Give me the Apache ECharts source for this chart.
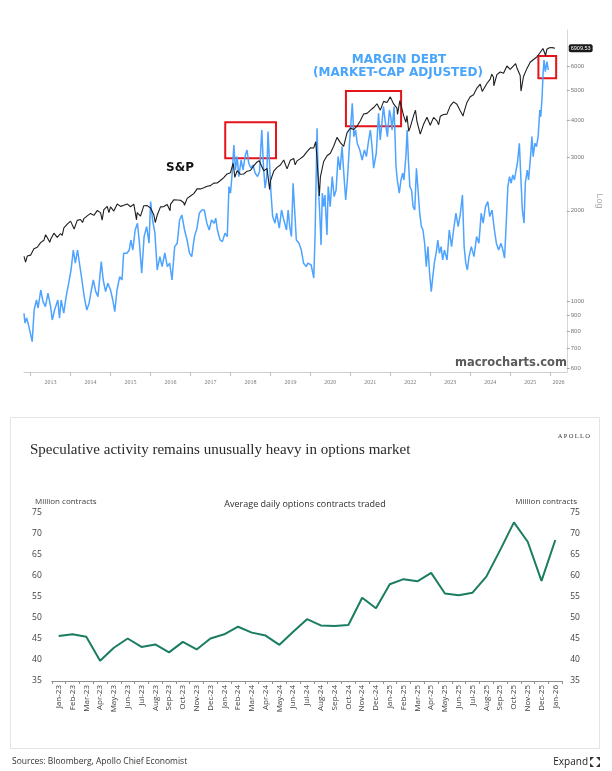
<!DOCTYPE html>
<html><head><meta charset="utf-8">
<script src="https://cdn.jsdelivr.net/npm/echarts@6.0.0/dist/echarts.min.js"></script>
<style>html,body{margin:0;padding:0;background:#fff}#c{width:612px;height:771px}</style>
</head><body><div id="c"></div>
<script>
// ---------- Top chart: S&P 500 (log) vs margin debt (market-cap adjusted) ----------
// [decimal year, index level]
const spxData = [
[2012.835,1412],[2012.875,1353],[2012.917,1416],[2013.0,1426],
[2013.083,1498],[2013.167,1515],[2013.25,1569],[2013.333,1597],[2013.375,1667],[2013.417,1631],[2013.48,1573],[2013.5,1606],[2013.583,1686],[2013.667,1633],[2013.75,1682],[2013.79,1656],[2013.833,1757],[2013.917,1806],[2014.0,1848],
[2014.09,1741],[2014.167,1859],[2014.25,1872],[2014.3,1829],[2014.333,1884],[2014.417,1924],[2014.5,1960],[2014.583,1931],[2014.667,2003],[2014.75,1972],[2014.79,1862],[2014.833,2018],[2014.917,2068],[2014.96,1972],[2015.0,2059],
[2015.083,1995],[2015.167,2105],[2015.25,2068],[2015.333,2086],[2015.417,2107],[2015.5,2063],[2015.583,2104],[2015.65,1867],[2015.667,1972],[2015.75,1920],[2015.833,2079],[2015.917,2080],[2016.0,2044],
[2016.083,1940],[2016.12,1829],[2016.167,1932],[2016.25,2060],[2016.333,2065],[2016.417,2097],[2016.49,2000],[2016.5,2099],[2016.583,2174],[2016.667,2171],[2016.75,2168],[2016.833,2126],[2016.85,2085],[2016.917,2199],[2017.0,2239],
[2017.083,2279],[2017.167,2364],[2017.25,2363],[2017.333,2384],[2017.417,2412],[2017.5,2423],[2017.583,2470],[2017.667,2472],[2017.75,2519],[2017.833,2575],[2017.917,2648],[2018.0,2674],
[2018.07,2873],[2018.11,2581],[2018.167,2714],[2018.25,2641],[2018.333,2648],[2018.417,2705],[2018.5,2718],[2018.583,2816],[2018.667,2902],[2018.72,2930],[2018.75,2914],[2018.833,2712],[2018.917,2760],[2018.98,2351],[2019.0,2507],
[2019.083,2704],[2019.167,2784],[2019.25,2834],[2019.333,2946],[2019.417,2752],[2019.5,2942],[2019.583,2980],[2019.62,2840],[2019.667,2926],[2019.75,2977],[2019.833,3038],[2019.917,3141],[2020.0,3231],
[2020.083,3226],[2020.135,3386],[2020.167,2954],[2020.225,2237],[2020.25,2585],[2020.333,2912],[2020.417,3044],[2020.5,3100],[2020.583,3271],[2020.667,3500],[2020.75,3363],[2020.833,3270],[2020.917,3622],[2021.0,3756],
[2021.083,3714],[2021.167,3811],[2021.25,3973],[2021.333,4181],[2021.417,4204],[2021.5,4298],[2021.583,4395],[2021.667,4523],[2021.75,4308],[2021.833,4605],[2021.917,4567],[2022.0,4766],
[2022.005,4797],[2022.083,4516],[2022.167,4374],[2022.18,4170],[2022.24,4632],[2022.333,4132],[2022.39,3923],[2022.417,4132],[2022.46,3667],[2022.5,3785],[2022.583,4130],[2022.63,4305],[2022.667,3955],[2022.75,3586],[2022.78,3577],[2022.833,3872],[2022.917,4080],[2023.0,3840],
[2023.083,4077],[2023.167,3970],[2023.21,3855],[2023.25,4109],[2023.333,4169],[2023.417,4180],[2023.5,4450],[2023.583,4589],[2023.667,4508],[2023.75,4288],[2023.82,4117],[2023.833,4194],[2023.917,4568],[2024.0,4770],
[2024.083,4846],[2024.167,5096],[2024.25,5254],[2024.3,4967],[2024.333,5036],[2024.417,5278],[2024.5,5460],[2024.54,5667],[2024.583,5522],[2024.59,5186],[2024.667,5648],[2024.75,5762],[2024.833,5705],[2024.917,6032],[2025.0,5882],
[2025.083,6041],[2025.135,6144],[2025.167,5955],[2025.25,5612],[2025.27,4982],[2025.333,5569],[2025.417,5912],[2025.5,6205],[2025.583,6339],[2025.667,6460],[2025.75,6688],[2025.82,6890],[2025.833,6840],[2025.885,6538],[2025.917,6849],[2025.98,6932],[2026.05,6940],[2026.12,6909.53]
];
// [decimal year, margin debt / market cap (%)]
const marginDebtData = [
[2012.835,1.294],[2012.859,1.245],[2012.901,1.270],[2012.958,1.227],[2013.040,1.152],[2013.089,1.310],[2013.148,1.360],[2013.188,1.320],[2013.254,1.410],[2013.311,1.352],[2013.370,1.327],[2013.435,1.394],[2013.501,1.327],[2013.543,1.260],[2013.600,1.310],[2013.681,1.360],[2013.723,1.269],[2013.765,1.360],[2013.830,1.294],[2013.889,1.377],[2013.953,1.444],
[2014.012,1.510],[2014.069,1.610],[2014.119,1.544],[2014.175,1.610],[2014.235,1.527],[2014.284,1.460],[2014.341,1.377],[2014.407,1.310],[2014.464,1.344],[2014.521,1.410],[2014.570,1.460],[2014.630,1.402],[2014.686,1.377],[2014.768,1.552],[2014.817,1.460],[2014.876,1.402],[2014.933,1.444],
[2015.000,1.410],[2015.057,1.360],[2015.106,1.302],[2015.163,1.410],[2015.230,1.477],[2015.287,1.460],[2015.328,1.594],[2015.410,1.594],[2015.469,1.610],[2015.509,1.660],[2015.558,1.610],[2015.617,1.710],[2015.674,1.744],[2015.723,1.644],[2015.780,1.494],[2015.840,1.677],[2015.904,1.727],[2015.963,1.644],
[2016.003,1.852],[2016.052,1.760],[2016.111,1.694],[2016.168,1.510],[2016.235,1.577],[2016.291,1.527],[2016.358,1.595],[2016.422,1.527],[2016.481,1.544],[2016.538,1.460],[2016.605,1.627],[2016.669,1.644],[2016.728,1.760],[2016.785,1.785],[2016.852,1.710],[2016.916,1.660],[2016.975,1.594],
[2017.032,1.577],[2017.099,1.677],[2017.163,1.719],[2017.222,1.794],[2017.286,1.810],[2017.346,1.810],[2017.410,1.744],[2017.469,1.710],[2017.526,1.760],[2017.593,1.744],[2017.632,1.769],[2017.674,1.710],[2017.741,1.660],[2017.798,1.652],[2017.864,1.694],[2017.921,1.677],[2017.963,1.927],
[2018.002,1.894],[2018.044,1.994],[2018.086,2.135],[2018.126,2.010],[2018.168,2.077],[2018.210,1.977],[2018.267,2.060],[2018.316,2.010],[2018.373,2.085],[2018.415,2.110],[2018.457,2.044],[2018.514,2.019],[2018.563,2.035],[2018.620,1.994],[2018.679,1.977],[2018.728,2.002],[2018.785,2.210],[2018.827,2.027],[2018.867,1.919],[2018.909,1.977],[2018.941,2.202],[2018.975,2.060],
[2019.015,1.894],[2019.057,1.777],[2019.114,1.744],[2019.156,1.794],[2019.222,1.719],[2019.279,1.810],[2019.336,1.760],[2019.403,1.710],[2019.444,1.810],[2019.484,1.727],[2019.526,1.677],[2019.568,1.944],[2019.607,1.810],[2019.649,1.660],[2019.716,1.644],[2019.773,1.610],[2019.830,1.544],[2019.896,1.527],[2019.938,1.544],
[2020.020,1.535],[2020.086,1.470],[2020.119,1.694],[2020.168,2.219],[2020.200,1.927],[2020.235,1.794],[2020.267,1.635],[2020.299,1.894],[2020.333,1.827],[2020.365,1.885],[2020.415,1.685],[2020.447,1.927],[2020.496,1.827],[2020.546,1.977],[2020.595,1.877],[2020.644,1.910],[2020.694,2.077],[2020.743,2.010],[2020.793,2.127],[2020.842,1.977],[2020.884,1.860],[2020.926,1.960],[2020.990,2.177],
[2021.049,2.344],[2021.089,2.177],[2021.131,2.210],[2021.173,2.144],[2021.237,2.110],[2021.296,2.060],[2021.353,2.110],[2021.402,2.077],[2021.459,2.160],[2021.501,2.210],[2021.543,2.127],[2021.583,2.019],[2021.649,2.094],[2021.706,2.294],[2021.748,2.160],[2021.790,2.244],[2021.829,2.327],[2021.879,2.244],[2021.928,2.177],[2021.978,2.310],
[2022.012,2.277],[2022.044,2.210],[2022.094,2.327],[2022.143,2.027],[2022.175,1.960],[2022.225,1.894],[2022.267,1.960],[2022.309,1.994],[2022.341,1.960],[2022.390,2.077],[2022.422,2.210],[2022.457,2.044],[2022.489,1.927],[2022.531,1.910],[2022.570,1.827],[2022.612,1.810],[2022.654,2.019],[2022.694,1.910],[2022.736,1.794],[2022.778,1.727],[2022.817,1.710],[2022.859,1.644],[2022.901,1.527],[2022.941,1.627],[2022.983,1.494],
[2023.025,1.402],[2023.064,1.477],[2023.106,1.552],[2023.148,1.594],[2023.188,1.660],[2023.230,1.594],[2023.272,1.627],[2023.311,1.560],[2023.353,1.610],[2023.420,1.560],[2023.476,1.710],[2023.533,1.627],[2023.583,1.710],[2023.642,1.794],[2023.699,1.727],[2023.748,1.785],[2023.805,1.885],[2023.847,1.627],[2023.889,1.544],[2023.928,1.510],[2023.970,1.577],
[2024.027,1.627],[2024.094,1.577],[2024.160,1.677],[2024.217,1.644],[2024.274,1.794],[2024.323,1.744],[2024.383,1.827],[2024.439,1.852],[2024.489,1.777],[2024.546,1.810],[2024.605,1.710],[2024.654,1.644],[2024.711,1.610],[2024.768,1.644],[2024.817,1.610],[2024.859,1.569],[2024.901,1.744],[2024.941,1.927],[2024.983,1.977],
[2025.024,1.944],[2025.064,1.985],[2025.106,1.960],[2025.148,2.010],[2025.180,2.044],[2025.229,2.144],[2025.262,1.994],[2025.304,1.810],[2025.346,1.744],[2025.378,1.944],[2025.427,2.010],[2025.459,1.960],[2025.509,2.077],[2025.543,2.177],[2025.575,2.077],[2025.617,2.144],[2025.657,2.127],[2025.699,2.177],[2025.741,2.310],[2025.765,2.277],[2025.798,2.377],[2025.823,2.494],[2025.847,2.560],[2025.879,2.502],[2025.921,2.552],[2025.953,2.510]
];
const yearTicks = [2013,2014,2015,2016,2017,2018,2019,2020,2021,2022,2023,2024,2025,2026];
const yearLabelPos = [2013.5,2014.5,2015.5,2016.5,2017.5,2018.5,2019.5,2020.5,2021.5,2022.5,2023.5,2024.5,2025.5,2026.21];
const logTicks = [600,700,800,900,1000,2000,3000,4000,5000,6000];
const lastPrice = 6909.53;
// highlighted regions: [[startYear, topLevel],[endYear, bottomLevel]]
const highlightBoxes = [
  [[2017.87,3930],[2019.14,2985]],
  [[2020.89,4985],[2022.27,3810]],
  [[2025.706,6510],[2026.15,5490]]
];

// ---------- Bottom chart: average daily options contracts ----------
const months = ['Jan-23','Feb-23','Mar-23','Apr-23','May-23','Jun-23','Jul-23','Aug-23','Sep-23','Oct-23','Nov-23','Dec-23',
 'Jan-24','Feb-24','Mar-24','Apr-24','May-24','Jun-24','Jul-24','Aug-24','Sep-24','Oct-24','Nov-24','Dec-24',
 'Jan-25','Feb-25','Mar-25','Apr-25','May-25','Jun-25','Jul-25','Aug-25','Sep-25','Oct-25','Nov-25','Dec-25','Jan-26'];
const optionsVolume = [45.7,46.1,45.5,39.8,42.9,45.1,43.1,43.7,41.8,44.3,42.5,45.1,
 46.1,47.9,46.5,45.8,43.6,46.7,49.7,48.2,48.1,48.3,54.8,52.3,
 58.0,59.2,58.7,60.7,55.8,55.4,56.0,59.8,66.1,72.7,68.1,58.8,68.5];

const chart = echarts.init(document.getElementById('c'), null, {renderer:'canvas'});
const sansUI = '"Open Sans", "Noto Sans", sans-serif';

const option = {
  backgroundColor: '#ffffff',
  animation: false,
  grid: [
    {left: 24, right: 38, top: 30, height: 342},
    {left: 51.8, right: 49.8, top: 512.7, height: 168.3}
  ],
  xAxis: [
    {gridIndex: 0, type: 'value', min: 2012.835, max: 2026.415,
     axisLine: {show: true, lineStyle: {color: '#cfcfcf', width: 1}},
     axisTick: {show: true, customValues: yearTicks, length: 4, lineStyle: {color: '#bdbdbd'}},
     axisLabel: {customValues: yearLabelPos, formatter: v => String(Math.floor(v)),
                 fontSize: 6, color: '#777', fontFamily: '"Liberation Serif", serif', margin: 7},
     splitLine: {show: false}},
    {gridIndex: 1, type: 'category', data: months, boundaryGap: true,
     axisLine: {show: true, lineStyle: {color: '#8f8f8f', width: 1}},
     axisTick: {show: true, length: 3, lineStyle: {color: '#8f8f8f'}},
     axisLabel: {rotate: 90, interval: 0, fontSize: 8, color: '#3d3d3d', fontFamily: sansUI, margin: 4},
     splitLine: {show: false}}
  ],
  yAxis: [
    {gridIndex: 0, type: 'log', logBase: 10, position: 'right', min: 585, max: 7937,
     axisLine: {show: true, lineStyle: {color: '#d6d6d6', width: 1}},
     axisTick: {show: true, customValues: logTicks, length: 3, lineStyle: {color: '#aaaaaa'}},
     axisLabel: {customValues: logTicks, formatter: v => String(Math.round(v)),
                 fontSize: 6, color: '#777', margin: 4, fontFamily: '"Liberation Sans", sans-serif'},
     splitLine: {show: false},
     name: 'Log', nameLocation: 'middle', nameGap: 20, nameRotate: -90,
     nameTextStyle: {color: '#aaaaaa', fontSize: 9, fontFamily: '"Liberation Sans", sans-serif'}},
    {gridIndex: 0, type: 'value', min: 1.0, max: 2.71, show: false},
    {gridIndex: 1, type: 'value', min: 35, max: 75, interval: 5, position: 'left',
     axisLine: {show: false}, axisTick: {show: false}, splitLine: {show: false},
     axisLabel: {fontSize: 8.5, color: '#3d3d3d', fontFamily: sansUI, margin: 10}},
    {gridIndex: 1, type: 'value', min: 35, max: 75, interval: 5, position: 'right',
     axisLine: {show: false}, axisTick: {show: false}, splitLine: {show: false},
     axisLabel: {fontSize: 8.5, color: '#3d3d3d', fontFamily: sansUI, margin: 8}}
  ],
  series: [
    {name: 'Margin debt (market-cap adjusted)', type: 'line', xAxisIndex: 0, yAxisIndex: 1,
     data: marginDebtData, showSymbol: false, silent: true, z: 2,
     lineStyle: {color: '#4da3ff', width: 1.5}},
    {name: 'S&P', type: 'line', xAxisIndex: 0, yAxisIndex: 0,
     data: spxData, showSymbol: false, silent: true, z: 3,
     lineStyle: {color: '#1e1e1e', width: 1.1},
     markArea: {silent: true,
       itemStyle: {color: 'rgba(0,0,0,0)', borderColor: '#e3151a', borderWidth: 2},
       data: highlightBoxes.map(b => [{coord: b[0]}, {coord: b[1]}])},
     markLine: {silent: true, symbol: ['none', 'none'],
       lineStyle: {color: 'rgba(0,0,0,0)', width: 0.1},
       label: {show: true, position: 'end', formatter: String(lastPrice), distance: 2,
               backgroundColor: '#1a1a1a', color: '#ffffff', fontSize: 5.5, padding: [1, 2], borderRadius: 2,
               fontFamily: '"Liberation Sans", sans-serif'},
       data: [{yAxis: lastPrice}]}},
    {name: 'Average daily options contracts traded', type: 'line', xAxisIndex: 1, yAxisIndex: 2,
     data: optionsVolume, showSymbol: false, silent: true,
     lineStyle: {color: '#1a7d62', width: 2}}
  ],
  graphic: {elements: [
    // top chart annotations
    {type: 'text', silent: true, style: {text: 'MARGIN DEBT', x: 399, y: 60, textAlign: 'center', textVerticalAlign: 'middle',
      fill: '#4aa6fb', font: 'bold 12px "DejaVu Sans", sans-serif'}},
    {type: 'text', silent: true, style: {text: '(MARKET-CAP ADJUSTED)', x: 398, y: 72.5, textAlign: 'center', textVerticalAlign: 'middle',
      fill: '#4aa6fb', font: 'bold 12px "DejaVu Sans", sans-serif'}},
    {type: 'text', silent: true, style: {text: 'S&P', x: 180, y: 168, textAlign: 'center', textVerticalAlign: 'middle',
      fill: '#111', font: 'bold 12px "DejaVu Sans", sans-serif'}},
    {type: 'text', silent: true, style: {text: 'macrocharts.com', x: 511, y: 363, textAlign: 'center', textVerticalAlign: 'middle',
      fill: '#5a5a5a', font: 'bold 11.5px "DejaVu Sans", sans-serif'}},
    // bottom card
    {type: 'rect', silent: true, z: -1, shape: {x: 10.5, y: 417.5, width: 589, height: 331},
      style: {fill: 'none', stroke: '#e4e4e4', lineWidth: 1}},
    {type: 'text', silent: true, style: {text: 'Speculative activity remains unusually heavy in options market', x: 30, y: 450,
      textAlign: 'left', textVerticalAlign: 'middle', fill: '#2a2a2a', font: '15px "Liberation Serif", serif'}},
    {type: 'text', silent: true, style: {text: 'A\u2009P\u2009O\u2009L\u2009L\u2009O', x: 590, y: 436, textAlign: 'right', textVerticalAlign: 'middle',
      fill: '#333', font: '6.5px "Liberation Serif", serif'}},
    {type: 'text', silent: true, style: {text: 'Average daily options contracts traded', x: 305, y: 504, textAlign: 'center', textVerticalAlign: 'middle',
      fill: '#2e2e2e', font: '9px ' + sansUI}},
    {type: 'text', silent: true, style: {text: 'Million contracts', x: 35, y: 502, textAlign: 'left', textVerticalAlign: 'middle',
      fill: '#3d3d3d', font: '8px ' + sansUI}},
    {type: 'text', silent: true, style: {text: 'Million contracts', x: 577, y: 502, textAlign: 'right', textVerticalAlign: 'middle',
      fill: '#3d3d3d', font: '8px ' + sansUI}},
    // footer
    {type: 'text', silent: true, style: {text: 'Sources: Bloomberg, Apollo Chief Economist', x: 12, y: 762, textAlign: 'left', textVerticalAlign: 'middle',
      fill: '#333', font: '8.5px ' + sansUI}},
    {type: 'text', silent: true, style: {text: 'Expand', x: 588, y: 762, textAlign: 'right', textVerticalAlign: 'middle',
      fill: '#222', font: '10px ' + sansUI}},
    {type: 'polygon', silent: true, shape: {points: [[590,757],[594,757],[590,761]]}, style: {fill: '#333'}},
    {type: 'polygon', silent: true, shape: {points: [[600,757],[596,757],[600,761]]}, style: {fill: '#333'}},
    {type: 'polygon', silent: true, shape: {points: [[590,767],[594,767],[590,763]]}, style: {fill: '#333'}},
    {type: 'polygon', silent: true, shape: {points: [[600,767],[596,767],[600,763]]}, style: {fill: '#333'}}
  ]}
};
chart.setOption(option);
</script>
</body></html>
